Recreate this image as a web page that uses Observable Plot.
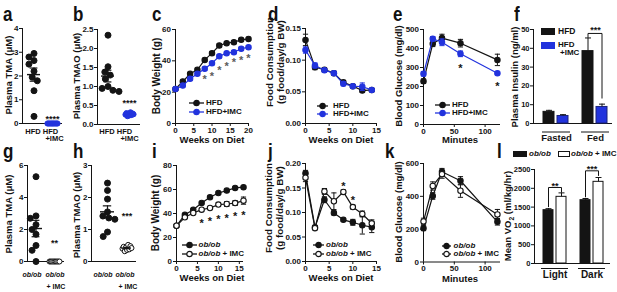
<!DOCTYPE html>
<html>
<head>
<meta charset="utf-8">
<script src="https://cdn.jsdelivr.net/npm/d3@7"></script>
<script src="https://cdn.jsdelivr.net/npm/@observablehq/plot@0.6"></script>
<style>
html, body { margin:0; padding:0; background:#fff; }
#fig { position:relative; width:617px; height:292px; overflow:hidden; background:#fff;
  font-family:"Liberation Sans", Arial, Helvetica, sans-serif; font-weight:bold; color:#111; }
#fig .t { position:absolute; white-space:nowrap; line-height:1; }
#fig svg.pl { position:absolute; overflow:visible; max-width:none; }
</style>
</head>
<body>
<div id="fig"></div>
<script>
// ================= DATA =================
// a: Plasma TMA (µM)
const dietGroups = ["HFD", "HFD\n+IMC"];
const tmaHFD = [2.95, 2.8, 2.65, 2.5, 2.2, 1.95, 1.8, 1.38, 0.3];
const tmaIMC = [0, 0, 0, 0, 0, 0, 0, 0, 0];
// b: Plasma TMAO (µM)
const tmaoHFD = [2.35, 1.52, 1.38, 1.3, 1.2, 1.0, 0.95, 0.9, 0.87];
const tmaoIMC = [0.26, 0.3, 0.22, 0.28, 0.24, 0.32, 0.25, 0.29, 0.27];
// c: Body weight (g) vs weeks on HFD
const weeksC = [0, 2, 4, 6, 8, 10, 12, 14, 16, 18, 20];
const bwHFD = [22.1, 26.8, 31.7, 34.3, 40.6, 44.9, 49.8, 51.3, 51.9, 53.4, 54.0];
const bwHFDErr = [0.8, 0.8, 0.9, 1, 1, 1, 1, 1, 1, 1, 1];
const bwIMC = [22.0, 24.2, 28.5, 31.7, 34.9, 38.5, 42.9, 44.9, 45.5, 47.7, 48.7];
const bwIMCErr = [0.8, 0.8, 0.9, 1, 1, 1, 1, 1, 1, 1, 1];
const starWeeksC = [8, 10, 12, 14, 16, 18, 20];
const starYC = [30, 32, 36, 38.5, 40.6, 42, 43.4];
// d: Food consumption (g food/day/g BW)
const weeksD = [0, 2, 4, 6, 8, 10, 12, 14];
const fcHFD = [0.132, 0.089, 0.085, 0.0795, 0.065, 0.059, 0.052, 0.053];
const fcHFDErr = [0.009, 0.004, 0.003, 0.003, 0.003, 0.002, 0.003, 0.002];
const fcIMC = [0.116, 0.0916, 0.084, 0.0795, 0.0627, 0.059, 0.058, 0.053];
const fcIMCErr = [0.005, 0.004, 0.003, 0.003, 0.003, 0.002, 0.006, 0.002];
// e: Blood glucose (mg/dl), GTT
const minutes = [0, 15, 30, 60, 120];
const gluHFD = [228, 425, 455, 428, 340];
const gluHFDErr = [12, 15, 20, 20, 30];
const gluIMC = [267, 451, 433, 372, 270];
const gluIMCErr = [12, 12, 18, 15, 6];
const starMinE = [60, 120];
const starYE = [310, 217];
// f: Plasma insulin (ng/ml)
const insulinStates = ["Fasted", "Fed"];
const insulinHFD = [6.2, 38.5];
const insulinHFDErr = [0.8, 7.0];
const insulinIMC = [4.0, 8.8];
const insulinIMCErr = [0.7, 1.5];
const insulinSig = {text: "***", top: 47.9, legL: 46, legR: 13.5, textY: 50.5};
// g: Plasma TMA (µM), ob/ob
const obGroups = ["ob/ob", "ob/ob\n+ IMC"];
const obTMA = [5.3, 2.85, 2.7, 2.3, 2.0, 1.7, 1.0, 0.7, 0];
const obTMAimc = [0, 0, 0, 0, 0, 0, 0, 0, 0];
// h: Plasma TMAO (µM), ob/ob
const obTMAO = [2.45, 2.22, 1.95, 1.55, 1.42, 1.36, 1.32, 0.92, 0.78];
const obTMAOimc = [0.40, 0.46, 0.32, 0.44, 0.36, 0.52, 0.38, 0.48, 0.42];
// i: Body weight (g), ob/ob
const weeksI = [0, 2, 4, 6, 8, 10, 12, 14, 16];
const bwOb = [29.8, 39.0, 43.2, 48.8, 53.5, 57.1, 59.1, 61.3, 61.9];
const bwObErr = [1, 1, 1, 1, 1, 1, 1, 1, 1];
const bwObImc = [29.8, 36.8, 40.4, 43.2, 44.6, 47.4, 47.9, 48.7, 50.7];
const bwObImcErr = [1, 1, 1, 1, 1.2, 1.5, 2, 2, 3];
const starWeeksI = [6, 8, 10, 12, 14, 16];
const starYI = [34.3, 36.2, 37.6, 38.2, 40.4, 41];
// j: Food consumption, ob/ob
const weeksJ = [0, 2, 4, 6, 8, 10, 12, 14];
const fcOb = [0.18, 0.070, 0.126, 0.099, 0.085, 0.080, 0.074, 0.070];
const fcObErr = [0.006, 0.003, 0.006, 0.004, 0.003, 0.006, 0.018, 0.011];
const fcObImc = [0.171, 0.068, 0.143, 0.123, 0.142, 0.111, 0.097, 0.078];
const fcObImcErr = [0.008, 0.003, 0.006, 0.017, 0.004, 0.004, 0.006, 0.007];
const starWeeksJ = [8, 10];
const starYJ = [0.160, 0.130];
// k: Blood glucose, ob/ob
const gluOb = [206, 402, 550, 495, 245];
const gluObErr = [15, 20, 20, 25, 20];
const gluObImc = [247, 463, 535, 434, 290];
const gluObImcErr = [20, 25, 25, 40, 30];
// l: Mean VO2 (ml/kg/hr)
const vo2Phases = ["Light", "Dark"];
const vo2Ob = [1418, 1684];
const vo2ObErr = [40, 45];
const vo2Imc = [1773, 2172];
const vo2ImcErr = [105, 115];
const vo2Sig = [
  {text: "**", top: 2021, legL: 1510, legR: 1905, textY: 2110},
  {text: "***", top: 2465, legL: 1773, legR: 2340, textY: 2570}
];
const hfdSeries = ["HFD", "HFD+IMC"];
const obSeries = ["ob/ob", "ob/ob  + IMC"];

// ================= HELPERS =================
const fig = document.getElementById("fig");
const FONT = '"Liberation Sans", Arial, Helvetica, sans-serif';
const INK = "#141414", BLUE = "#2233dd", GREY = "#5c5c5c";
const M = {l: 45, r: 25, t: 16, b: 36};
const capSym = {draw(ctx, size) { const w = Math.sqrt(size / Math.PI); ctx.moveTo(-w, 0); ctx.lineTo(w, 0); }};
const italOb = s => s.replace(/ob\/ob/g, "<i>ob/ob</i>");

function plotAt(fr, opts, fs = 8) {
  const svg = Plot.plot(Object.assign({
    width: fr.x1 - fr.x0 + M.l + M.r,
    height: fr.y1 - fr.y0 + M.t + M.b,
    marginLeft: M.l, marginRight: M.r, marginTop: M.t, marginBottom: M.b,
    style: {fontFamily: FONT, fontWeight: "bold", fontSize: fs + "px", background: "none", color: INK, overflow: "visible"}
  }, opts));
  svg.classList.add("pl");
  svg.style.left = (fr.x0 - M.l) + "px";
  svg.style.top = (fr.y0 - M.t) + "px";
  fig.appendChild(svg);
  return svg;
}

function txt(s, x, base, fs, o = {}) {
  const d = document.createElement("div");
  d.className = "t";
  d.innerHTML = s;
  d.style.fontSize = fs + "px";
  d.style.left = x + "px";
  d.style.top = (base - 0.847 * fs) + "px";
  let tf = "";
  if (o.center) tf += "translateX(-50%) ";
  if (o.sx) { tf += `scaleX(${o.sx})`; d.style.transformOrigin = "left top"; }
  if (tf) d.style.transform = tf;
  fig.appendChild(d);
}
function ytitle(s, cx, cy, fs) {
  const d = document.createElement("div");
  d.className = "t";
  d.innerHTML = s;
  d.style.cssText += `font-size:${fs}px;left:${cx}px;top:${cy}px;text-align:center;line-height:1.08;transform:translate(-50%,-50%) rotate(-90deg);`;
  fig.appendChild(d);
}
function legLine(x, yc, len, color, fill, label, tx, fs = 8) {
  fig.insertAdjacentHTML("beforeend",
    `<svg style="position:absolute;left:${x}px;top:${yc - 5}px;overflow:visible" width="${len}" height="10">` +
    `<line x1="0" y1="5" x2="${len}" y2="5" stroke="${color}" stroke-width="1.3"/>` +
    `<circle cx="${len / 2}" cy="5" r="2.7" fill="${fill}" stroke="${color}" stroke-width="1.2"/></svg>`);
  txt(label, tx, yc + 0.36 * fs, fs);
}
function legBox(x, y, w, h, fill, stroke) {
  fig.insertAdjacentHTML("beforeend",
    `<div style="position:absolute;left:${x}px;top:${y}px;width:${w}px;height:${h}px;background:${fill};box-sizing:border-box;border:1px solid ${stroke}"></div>`);
}

function yAxisFrame(fr, yDomain, yTicks, yFmt, fs = 8) {
  plotAt(fr, {
    x: {domain: [0, 1], axis: null}, y: {domain: yDomain, axis: null},
    marks: [
      Plot.ruleY([yDomain[0]], {stroke: INK, strokeWidth: 1}),
      Plot.ruleX([0], {stroke: INK, strokeWidth: 1}),
      Plot.axisY({ticks: yTicks, tickFormat: yFmt, tickSize: 3, tickPadding: 1, label: null})
    ]
  }, fs);
}

function linePanel(fr, cfg) {
  const marks = [
    Plot.ruleY([cfg.yDomain[0]], {stroke: INK, strokeWidth: 1}),
    Plot.ruleX([cfg.xDomain[0]], {stroke: INK, strokeWidth: 1}),
    Plot.axisX({ticks: cfg.xTicks, tickSize: 3, tickPadding: 0.5, label: null}),
    Plot.axisY({ticks: cfg.yTicks, tickFormat: cfg.yFmt, tickSize: 3, tickPadding: 1.5, label: null})
  ];
  for (const s of cfg.series) {
    const rows = s.x.map((x, i) => ({x, y: s.y[i], lo: s.y[i] - s.e[i], hi: s.y[i] + s.e[i]}));
    marks.push(
      Plot.ruleX(rows, {x: "x", y1: "lo", y2: "hi", stroke: s.color, strokeWidth: 1}),
      Plot.dot(rows, {x: "x", y: "hi", symbol: capSym, r: 2.6, stroke: s.color, fill: "none", strokeWidth: 1}),
      Plot.dot(rows, {x: "x", y: "lo", symbol: capSym, r: 2.6, stroke: s.color, fill: "none", strokeWidth: 1}),
      Plot.line(rows, {x: "x", y: "y", stroke: s.color, strokeWidth: 1.2}),
      Plot.dot(rows, {x: "x", y: "y", r: 2.7, fill: s.fill, stroke: s.color, strokeWidth: 1.1})
    );
  }
  if (cfg.stars) {
    const st = cfg.stars;
    marks.push(Plot.text(st.x.map((x, i) => ({x, y: st.y[i]})),
      {x: "x", y: "y", text: () => "*", fill: st.color, fontSize: 11, dy: 3}));
  }
  plotAt(fr, {x: {domain: cfg.xDomain}, y: {domain: cfg.yDomain}, marks});
}

function strip(fr, cfg) {
  yAxisFrame(fr, cfg.yDomain, cfg.yTicks, cfg.yFmt);
  for (const g of cfg.groups) {
    const gf = {x0: g.cx - g.w / 2, x1: g.cx + g.w / 2, y0: fr.y0, y1: fr.y1};
    const n = g.values.length, mean = d3.mean(g.values), sem = d3.deviation(g.values) / Math.sqrt(n);
    const dotOpts = {y: d => d, r: g.r, fill: g.fill, stroke: g.stroke, strokeWidth: g.sw || 1};
    const dots = g.layout === "dodge"
      ? Plot.dot(g.values, Plot.dodgeX({anchor: "middle", padding: g.pad}, dotOpts))
      : Plot.dot(g.values, {...dotOpts, x: (d, i) => i});
    const stats = g.stats ? [
      Plot.tickY([mean], {stroke: INK, strokeWidth: 1.4}),
      Plot.ruleX([{lo: mean - sem, hi: mean + sem}], {x: null, y1: "lo", y2: "hi", stroke: INK, strokeWidth: 1.2}),
      Plot.tickY([mean - sem, mean + sem], {stroke: INK, strokeWidth: 1.2, insetLeft: g.w * 0.2, insetRight: g.w * 0.2})
    ] : [];
    const sig = g.sig ? [Plot.text([g.sig.text], {text: d => d, y: () => g.sig.y, fontSize: 9, fill: INK, dy: 2})] : [];
    plotAt(gf, {
      x: {domain: [0, n - 1], axis: null}, y: {domain: cfg.yDomain, axis: null},
      marks: g.statsFirst ? [...stats, dots, ...sig] : [dots, ...stats, ...sig]
    });
    const lines = g.label.split("\n");
    lines.forEach((ln, i) => txt(italOb(ln), g.lx[i], cfg.lBase[i], cfg.lfs, {center: true}));
  }
}

function barGroup(fr, cfg) {
  const rows = cfg.keys.map((k, i) => ({k, v: cfg.vals[i], e: cfg.errs[i], fill: cfg.fills[i], stroke: cfg.strokes[i]}));
  const marks = [
    Plot.barY(rows, {x: "k", y: "v", fill: "fill", stroke: "stroke", strokeWidth: 1}),
    Plot.ruleX(rows, {x: "k", y1: "v", y2: d => d.v + d.e, stroke: INK, strokeWidth: 1}),
    Plot.dot(rows, {x: "k", y: d => d.v + d.e, symbol: capSym, r: 3, stroke: INK, fill: "none", strokeWidth: 1}),
    Plot.ruleY([cfg.yDomain[0]], {dy: cfg.ulDy, stroke: INK, strokeWidth: 1}),
    Plot.text([cfg.label], {text: d => d, frameAnchor: "bottom", dy: cfg.lbDy, fontSize: cfg.lbFs})
  ];
  if (cfg.sig) {
    const b = cfg.sig;
    const path = [{k: cfg.keys[0], v: b.legL}, {k: cfg.keys[0], v: b.top}, {k: cfg.keys[1], v: b.top}, {k: cfg.keys[1], v: b.legR}];
    marks.push(Plot.line(path, {x: "k", y: "v", stroke: INK, strokeWidth: 1}));
    marks.push(Plot.text([b.text], {text: d => d, y: () => b.textY, fontSize: 9, dy: 2}));
  }
  plotAt(fr, {
    x: {type: "band", domain: cfg.keys, paddingInner: cfg.pi, paddingOuter: cfg.po, axis: null},
    y: {domain: cfg.yDomain, axis: null}, color: {type: "identity"}, marks
  });
}

// ================= ROW 1 =================
strip({x0: 22, x1: 62, y0: 28, y1: 123}, {
  yDomain: [0, 4], yTicks: [0, 1, 2, 3, 4], yFmt: d3.format("d"), lBase: [134, 141.8], lfs: 7.5,
  groups: [
    {values: tmaHFD, cx: 33.5, w: 13, layout: "dodge", r: 3, pad: 0.2, fill: INK, stroke: INK, stats: true, label: dietGroups[0], lx: [33]},
    {values: tmaIMC, cx: 52, w: 10, layout: "index", r: 2.6, fill: BLUE, stroke: BLUE, statsFirst: true, label: dietGroups[1], lx: [50.5, 54.5], sig: {text: "****", y: 0.28}}
  ]
});
strip({x0: 97, x1: 140, y0: 29, y1: 124}, {
  yDomain: [0, 2.5], yTicks: [0, 0.5, 1, 1.5, 2, 2.5], yFmt: d3.format(".1f"), lBase: [134, 141.8], lfs: 7.5,
  groups: [
    {values: tmaoHFD, cx: 107, w: 13, layout: "dodge", r: 3, pad: 0.2, fill: INK, stroke: INK, stats: true, label: dietGroups[0], lx: [107]},
    {values: tmaoIMC, cx: 129, w: 8, layout: "index", r: 2.6, fill: BLUE, stroke: BLUE, statsFirst: true, stats: true, label: dietGroups[1], lx: [124.5, 129.5], sig: {text: "****", y: 0.62}}
  ]
});
linePanel({x0: 175, x1: 248, y0: 29, y1: 123}, {
  xDomain: [0, 20], yDomain: [0, 60], xTicks: [0, 5, 10, 15, 20], yTicks: [0, 20, 40, 60],
  series: [
    {x: weeksC, y: bwHFD, e: bwHFDErr, color: INK, fill: INK},
    {x: weeksC, y: bwIMC, e: bwIMCErr, color: BLUE, fill: BLUE}
  ],
  stars: {x: starWeeksC, y: starYC, color: GREY}
});
linePanel({x0: 305, x1: 376, y0: 28, y1: 123}, {
  xDomain: [0, 15], yDomain: [0, 0.15], xTicks: [0, 5, 10, 15], yTicks: [0, 0.05, 0.1, 0.15], yFmt: d3.format(".2f"),
  series: [
    {x: weeksD, y: fcHFD, e: fcHFDErr, color: INK, fill: INK},
    {x: weeksD, y: fcIMC, e: fcIMCErr, color: BLUE, fill: BLUE}
  ]
});
linePanel({x0: 423, x1: 500, y0: 29, y1: 124}, {
  xDomain: [0, 125], yDomain: [0, 500], xTicks: [0, 50, 100], yTicks: [0, 100, 200, 300, 400, 500],
  series: [
    {x: minutes, y: gluHFD, e: gluHFDErr, color: INK, fill: INK},
    {x: minutes, y: gluIMC, e: gluIMCErr, color: BLUE, fill: BLUE}
  ],
  stars: {x: starMinE, y: starYE, color: INK}
});
yAxisFrame({x0: 533, x1: 612, y0: 29, y1: 123}, [0, 50], [0, 10, 20, 30, 40, 50], d3.format("d"), 7.5);
insulinStates.forEach((st, i) => {
  barGroup(i === 0 ? {x0: 542, x1: 570, y0: 29, y1: 123} : {x0: 581, x1: 609, y0: 29, y1: 123}, {
    keys: ["HFD", "HFD+IMC"], vals: [insulinHFD[i], insulinIMC[i]], errs: [insulinHFDErr[i], insulinIMCErr[i]],
    fills: [INK, BLUE], strokes: [INK, "#1a237a"], yDomain: [0, 50], pi: 0.2, po: 0.07,
    label: st, ulDy: 8.5, lbDy: 17, lbFs: 9.5, sig: i === 1 ? insulinSig : null
  });
});

// ================= ROW 2 =================
strip({x0: 27, x1: 64, y0: 165, y1: 261}, {
  yDomain: [0, 6], yTicks: [0, 2, 4, 6], yFmt: d3.format("d"), lBase: [277, 288.5], lfs: 7,
  groups: [
    {values: obTMA, cx: 35, w: 13, layout: "dodge", r: 3, pad: 0.2, fill: INK, stroke: INK, stats: true, label: obGroups[0], lx: [32]},
    {values: obTMAimc, cx: 54, w: 10, layout: "index", r: 2.5, fill: "white", stroke: INK, statsFirst: true, label: obGroups[1], lx: [55, 56], sig: {text: "**", y: 1.3}}
  ]
});
strip({x0: 91, x1: 136, y0: 165, y1: 261}, {
  yDomain: [0, 3], yTicks: [0, 1, 2, 3], yFmt: d3.format("d"), lBase: [277, 288.5], lfs: 7,
  groups: [
    {values: obTMAO, cx: 107, w: 14, layout: "dodge", r: 3, pad: 0.2, fill: INK, stroke: INK, stats: true, label: obGroups[0], lx: [103]},
    {values: obTMAOimc, cx: 126, w: 9, layout: "index", r: 2.5, fill: "white", stroke: INK, stats: true, label: obGroups[1], lx: [125, 128], sig: {text: "***", y: 1.47}}
  ]
});
linePanel({x0: 176, x1: 243, y0: 165, y1: 261}, {
  xDomain: [0, 16], yDomain: [0, 80], xTicks: [0, 5, 10, 15], yTicks: [0, 20, 40, 60, 80],
  series: [
    {x: weeksI, y: bwOb, e: bwObErr, color: INK, fill: INK},
    {x: weeksI, y: bwObImc, e: bwObImcErr, color: INK, fill: "white"}
  ],
  stars: {x: starWeeksI, y: starYI, color: INK}
});
linePanel({x0: 305, x1: 376, y0: 163, y1: 261}, {
  xDomain: [0, 15], yDomain: [0, 0.2], xTicks: [0, 5, 10, 15], yTicks: [0, 0.05, 0.1, 0.15, 0.2], yFmt: d3.format(".2f"),
  series: [
    {x: weeksJ, y: fcOb, e: fcObErr, color: INK, fill: INK},
    {x: weeksJ, y: fcObImc, e: fcObImcErr, color: INK, fill: "white"}
  ],
  stars: {x: starWeeksJ, y: starYJ, color: INK}
});
linePanel({x0: 423, x1: 500, y0: 163, y1: 261.5}, {
  xDomain: [0, 125], yDomain: [0, 600], xTicks: [0, 50, 100], yTicks: [0, 200, 400, 600],
  series: [
    {x: minutes, y: gluOb, e: gluObErr, color: INK, fill: INK},
    {x: minutes, y: gluObImc, e: gluObImcErr, color: INK, fill: "white"}
  ]
});
yAxisFrame({x0: 534, x1: 610, y0: 169, y1: 263}, [0, 2500], [0, 500, 1000, 1500, 2000, 2500], d3.format("d"), 7.5);
vo2Phases.forEach((ph, i) => {
  barGroup(i === 0 ? {x0: 541, x1: 568, y0: 169, y1: 263} : {x0: 578, x1: 605, y0: 169, y1: 263}, {
    keys: ["ob/ob", "ob/ob+IMC"], vals: [vo2Ob[i], vo2Imc[i]], errs: [vo2ObErr[i], vo2ImcErr[i]],
    fills: [INK, "white"], strokes: [INK, INK], yDomain: [0, 2500], pi: 0.26, po: 0.13,
    label: ph, ulDy: 5, lbDy: 14, lbFs: 10, sig: vo2Sig[i]
  });
});

// ================= TEXT: letters, titles, legends =================
const letters1 = ["a", "b", "c", "d", "e", "f"], lx1 = [3, 73, 152, 268, 393, 514];
const letters2 = ["g", "h", "i", "j", "k", "l"], lx2 = [3, 73, 152, 268, 385, 497];
letters1.forEach((l, i) => txt(l, lx1[i], 21, 20, {sx: 0.85}));
letters2.forEach((l, i) => txt(l, lx2[i], 158, 20, {sx: 0.85}));

ytitle("Plasma TMA (&mu;M)", 9, 75, 9.5);
ytitle("Plasma TMAO (&mu;M)", 77, 76, 9.5);
ytitle("Body Weight (g)", 157, 76, 10);
ytitle("Food Consumption<br>(g food/day/g BW)", 275.5, 62, 9.8);
ytitle("Blood Glucose (mg/dl)", 399, 76, 9.5);
ytitle("Plasma Insulin (ng/ml)", 515, 77, 9.5);
ytitle("Plasma TMA (&mu;M)", 9, 214, 9.5);
ytitle("Plasma TMAO (&mu;M)", 77, 215, 9.5);
ytitle("Body Weight (g)", 156, 213, 10);
ytitle("Food Consumption<br>(g food/day/g BW)", 275, 208, 9.8);
ytitle("Blood Glucose (mg/dl)", 399, 212, 9.5);
ytitle("Mean VO<sub style='font-size:70%;line-height:0'>2</sub> (ml/kg/hr)", 507.5, 216, 9.5);

txt("Weeks on Diet", 212, 143.5, 9.5, {center: true});
txt("Weeks on Diet", 341, 143.5, 9.5, {center: true});
txt("Minutes", 460, 143.5, 9.5, {center: true});
txt("Weeks on Diet", 212, 281.5, 9.5, {center: true});
txt("Weeks on Diet", 341, 281.5, 9.5, {center: true});
txt("Minutes", 460, 282, 9.5, {center: true});

// legends
legLine(189, 103, 15, INK, INK, hfdSeries[0], 206);
legLine(189, 111.5, 15, BLUE, BLUE, hfdSeries[1], 206);
legLine(317, 105.5, 11, INK, INK, hfdSeries[0], 333);
legLine(317, 113.5, 11, BLUE, BLUE, hfdSeries[1], 333);
legLine(435, 105, 15, INK, INK, hfdSeries[0], 452);
legLine(435, 113, 15, BLUE, BLUE, hfdSeries[1], 452);
legLine(182, 245.3, 15, INK, INK, italOb(obSeries[0]), 198.5);
legLine(182, 253.7, 15, INK, "white", italOb(obSeries[1]), 198.5);
legLine(313, 245.3, 11, INK, INK, italOb(obSeries[0]), 326);
legLine(313, 253.7, 11, INK, "white", italOb(obSeries[1]), 326);
legLine(442, 246, 9, INK, INK, italOb(obSeries[0]), 453.5);
legLine(442, 254, 9, INK, "white", italOb(obSeries[1]), 453.5);

legBox(541, 28, 14, 7, INK, INK);
txt(hfdSeries[0], 558, 34.5, 8.5);
legBox(541, 41.5, 14, 7, BLUE, BLUE);
const imcParts = hfdSeries[1].split("+");
txt(imcParts[0], 558, 47.5, 8);
txt("+" + imcParts[1], 560, 55.5, 8);
legBox(513, 151, 14, 6, INK, INK);
txt(italOb(obSeries[0]), 529, 157, 8);
legBox(558, 151, 12, 6, "white", INK);
txt(italOb("ob/ob + IMC"), 571, 157, 8);
</script>
</body>
</html>
